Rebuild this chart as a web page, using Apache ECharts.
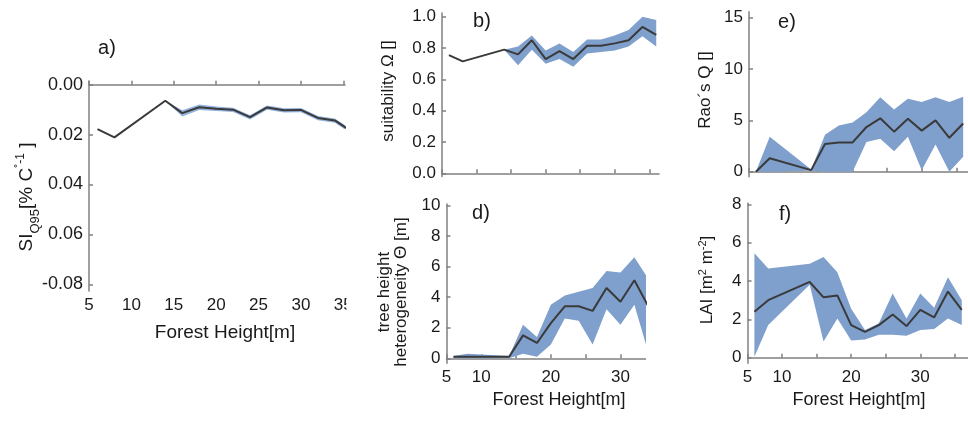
<!DOCTYPE html>
<html>
<head>
<meta charset="utf-8">
<script src="https://cdn.jsdelivr.net/npm/echarts@6/dist/echarts.min.js"></script>
<style>
html,body{margin:0;padding:0;background:#fff}
#main{width:968px;height:421px}
</style>
</head>
<body>
<div id="main"></div>
<script>
// forest height bins (m)
var heights = [6, 8, 14, 16, 18, 20, 22, 24, 26, 28, 30, 32, 34, 36];

// a) sensitivity SI_Q95
var siLine = [-0.0178, -0.0211, -0.0064, -0.0114, -0.0090, -0.0096, -0.0100, -0.0130, -0.0091, -0.0102, -0.0101, -0.0133, -0.0143, -0.0188];
var siLow  = [-0.0178, -0.0211, -0.0064, -0.0127, -0.0101, -0.0105, -0.0109, -0.0139, -0.0100, -0.0111, -0.0110, -0.0142, -0.0152, -0.0197];
var siHigh = [-0.0178, -0.0211, -0.0064, -0.0102, -0.0079, -0.0087, -0.0092, -0.0122, -0.0083, -0.0094, -0.0093, -0.0125, -0.0135, -0.0180];
var siTicks = [-0.08, -0.06, -0.04, -0.02, 0];
var siTickLabels = ['-0.08', '0.06', '0.04', '0.02', '0.00'];

// b) suitability
var suitLine = [0.755, 0.715, 0.79, 0.76, 0.85, 0.73, 0.78, 0.73, 0.815, 0.815, 0.83, 0.85, 0.935, 0.885];
var suitLow  = [0.755, 0.715, 0.79, 0.69, 0.79, 0.70, 0.73, 0.68, 0.765, 0.775, 0.785, 0.81, 0.875, 0.81];
var suitHigh = [0.755, 0.715, 0.79, 0.81, 0.88, 0.785, 0.83, 0.775, 0.855, 0.855, 0.88, 0.915, 1.0, 0.98];

// d) tree height heterogeneity
var hetLine = [0.1, 0.1, 0.1, 1.5, 1.0, 2.3, 3.4, 3.4, 3.1, 4.6, 3.7, 5.1, 3.4];
var hetLow  = [0, 0, 0, 0.3, 0.1, 0.9, 2.6, 2.45, 0.9, 3.2, 2.2, 3.5, 0.4];
var hetHigh = [0.15, 0.3, 0.15, 2.2, 1.4, 3.5, 4.1, 4.35, 4.6, 5.7, 5.6, 6.6, 5.2];

// e) Rao's Q
var raoLine = [0, 1.3, 0.15, 2.7, 2.85, 2.85, 4.35, 5.2, 3.9, 5.15, 4.0, 5.0, 3.3, 4.7];
var raoLow  = [0, 0, 0.1, 0, 0, 0, 2.9, 3.2, 2.0, 3.4, 0.15, 2.65, 0, 1.45];
var raoHigh = [0, 3.4, 0.2, 3.6, 4.5, 4.8, 5.8, 7.25, 6.05, 7.1, 6.8, 7.25, 6.8, 7.3];

// f) LAI
var laiLine = [2.4, 3.0, 3.95, 3.15, 3.25, 1.7, 1.35, 1.7, 2.25, 1.65, 2.5, 2.1, 3.45, 2.5];
var laiLow  = [0.05, 1.7, 3.8, 0.85, 2.05, 0.9, 0.95, 1.2, 1.2, 1.15, 1.45, 1.5, 2.05, 1.7];
var laiHigh = [5.45, 4.65, 4.9, 5.25, 4.45, 2.55, 1.45, 1.8, 3.35, 2.05, 3.35, 2.6, 4.2, 3.0];

var xTicks = [5, 10, 15, 20, 25, 30, 35];
var xTickLabelsA = ['5', '10', '15', '20', '25', '30', '35'];
var xTickLabelsDF = ['5', '10', '', '20', '', '30', ''];

var FONT = '"Liberation Sans", Arial, sans-serif';
var AXIS_COL = '#808080';
var BAND_COL = '#7f9fcc';
var LINE_COL = '#3a3a3a';

function pairs(vals) {
	return vals.map(function(v, i){ return [heights[i], v]; });
}

function band(idx, lo, hi, color) {
	var pts = lo.map(function(v, i){ return [heights[i], v, hi[i]]; });
	return {
		type: 'custom', xAxisIndex: idx, yAxisIndex: idx, clip: true, silent: true, z: 1,
		data: pts,
		renderItem: function(params, api){
			if (params.dataIndex !== 0) return;
			var top = pts.map(function(p){ return api.coord([p[0], p[2]]); });
			var bot = pts.map(function(p){ return api.coord([p[0], p[1]]); }).reverse();
			return {type: 'polygon', shape: {points: top.concat(bot)}, style: {fill: color}};
		}
	};
}

function line(idx, vals) {
	return {
		type: 'line', xAxisIndex: idx, yAxisIndex: idx, data: pairs(vals),
		showSymbol: false, symbol: 'none', z: 3, silent: true,
		lineStyle: {color: LINE_COL, width: 2}
	};
}

function xAxis(idx, max, names) {
	return {
		type: 'value', gridIndex: idx, min: 5, max: max,
		axisLine: {show: true, lineStyle: {color: AXIS_COL, width: 1.5}},
		axisTick: {show: true, inside: true, length: 4, customValues: xTicks, lineStyle: {color: AXIS_COL, width: 1.5}},
		splitLine: {show: false},
		axisLabel: {show: !!names, customValues: xTicks, margin: 6, fontSize: 17, color: '#1a1a1a', fontFamily: FONT,
			formatter: function(v){ return names ? names[xTicks.indexOf(v)] : ''; }}
	};
}

function yAxis(idx, min, max, ticks, fmt, size) {
	return {
		type: 'value', gridIndex: idx, min: min, max: max,
		axisLine: {show: true, lineStyle: {color: AXIS_COL, width: 1.5}},
		axisTick: {show: true, inside: true, length: 4, customValues: ticks, lineStyle: {color: AXIS_COL, width: 1.5}},
		splitLine: {show: false},
		axisLabel: {customValues: ticks, margin: 6, fontSize: size || 17, color: '#1a1a1a', fontFamily: FONT, formatter: fmt}
	};
}

function label(txt, x, y, size, rot, rich) {
	var st = {text: txt, font: size + 'px ' + FONT, fill: '#1a1a1a',
		align: 'center', verticalAlign: 'middle', textAlign: 'center', textVerticalAlign: 'middle'};
	if (rich) st.rich = rich;
	return {type: 'text', x: x, y: y, rotation: rot || 0, z: 100, style: st};
}

var myChart = echarts.init(document.getElementById('main'));
var option = {
	animation: false,
	grid: [
		{left: 89, top: 81, width: 256, height: 210, outerBoundsMode: 'none'},
		{left: 442, top: 13, width: 217, height: 163.5, outerBoundsMode: 'none'},
		{left: 446.5, top: 204, width: 199, height: 159.3, outerBoundsMode: 'none'},
		{left: 749, top: 11.7, width: 219, height: 165, outerBoundsMode: 'none'},
		{left: 747.5, top: 203.3, width: 220.5, height: 160, outerBoundsMode: 'none'}
	],
	xAxis: [
		xAxis(0, 35.2, xTickLabelsA),
		xAxis(1, 36.4, null),
		xAxis(2, 33.6, xTickLabelsDF),
		xAxis(3, 36.7, null),
		xAxis(4, 36.9, xTickLabelsDF)
	],
	yAxis: [
		yAxis(0, -0.0827, 0.0015, siTicks, function(v){ return siTickLabels[siTicks.indexOf(v)]; }, 18),
		yAxis(1, -0.02, 1.024, [0, 0.2, 0.4, 0.6, 0.8, 1.0], function(v){ return v.toFixed(1); }),
		yAxis(2, -0.327, 10.085, [0, 2, 4, 6, 8, 10], function(v){ return String(v); }),
		yAxis(3, -0.49, 15.59, [0, 5, 10, 15], function(v){ return String(v); }),
		yAxis(4, -0.29, 8.05, [0, 2, 4, 6, 8], function(v){ return String(v); })
	],
	series: [
		band(0, siLow, siHigh, '#93b2dc'), line(0, siLine),
		band(1, suitLow, suitHigh, BAND_COL), line(1, suitLine),
		band(2, hetLow, hetHigh, BAND_COL), line(2, hetLine),
		band(3, raoLow, raoHigh, BAND_COL), line(3, raoLine),
		band(4, laiLow, laiHigh, BAND_COL), line(4, laiLine)
	],
	graphic: [
		// hides the right half of the "35" label like the original crop
		{type: 'rect', shape: {x: 346.5, y: 296, width: 16, height: 20}, style: {fill: '#fff'}, z: 90},
		label('a)', 107, 48, 20),
		label('b)', 482, 21, 20),
		label('d)', 481, 213, 20),
		label('e)', 787, 22, 20),
		label('f)', 785, 214, 20),
		label('{m|SI}{s|Q95}{m|[% C}{p|˚-1}{m| ]}', 27, 197, 19, Math.PI / 2, {
			m: {fontSize: 19, fontFamily: FONT, fill: '#1a1a1a', lineHeight: 30},
			s: {fontSize: 13, fontFamily: FONT, fill: '#1a1a1a', lineHeight: 30, verticalAlign: 'bottom'},
			p: {fontSize: 12, fontFamily: FONT, fill: '#1a1a1a', lineHeight: 30, verticalAlign: 'top', padding: [3, 0, 0, 0]}
		}),
		label('suitability Ω []', 388, 91, 17, Math.PI / 2),
		label('tree height\nheterogeneity Θ [m]', 393, 292, 17, Math.PI / 2),
		label('Rao´s Q []', 705, 90, 17, Math.PI / 2),
		label('{m|LAI [m}{p|2}{m| m}{p|-2}{m|]}', 707, 280, 17, Math.PI / 2, {
			m: {fontSize: 17, fontFamily: FONT, fill: '#1a1a1a', lineHeight: 26},
			p: {fontSize: 11, fontFamily: FONT, fill: '#1a1a1a', lineHeight: 26, verticalAlign: 'top', padding: [3, 0, 0, 0]}
		}),
		label('Forest Height[m]', 225, 333, 19),
		label('Forest Height[m]', 559, 400, 18),
		label('Forest Height[m]', 859, 400, 18)
	]
};
myChart.setOption(option);
</script>
</body>
</html>
